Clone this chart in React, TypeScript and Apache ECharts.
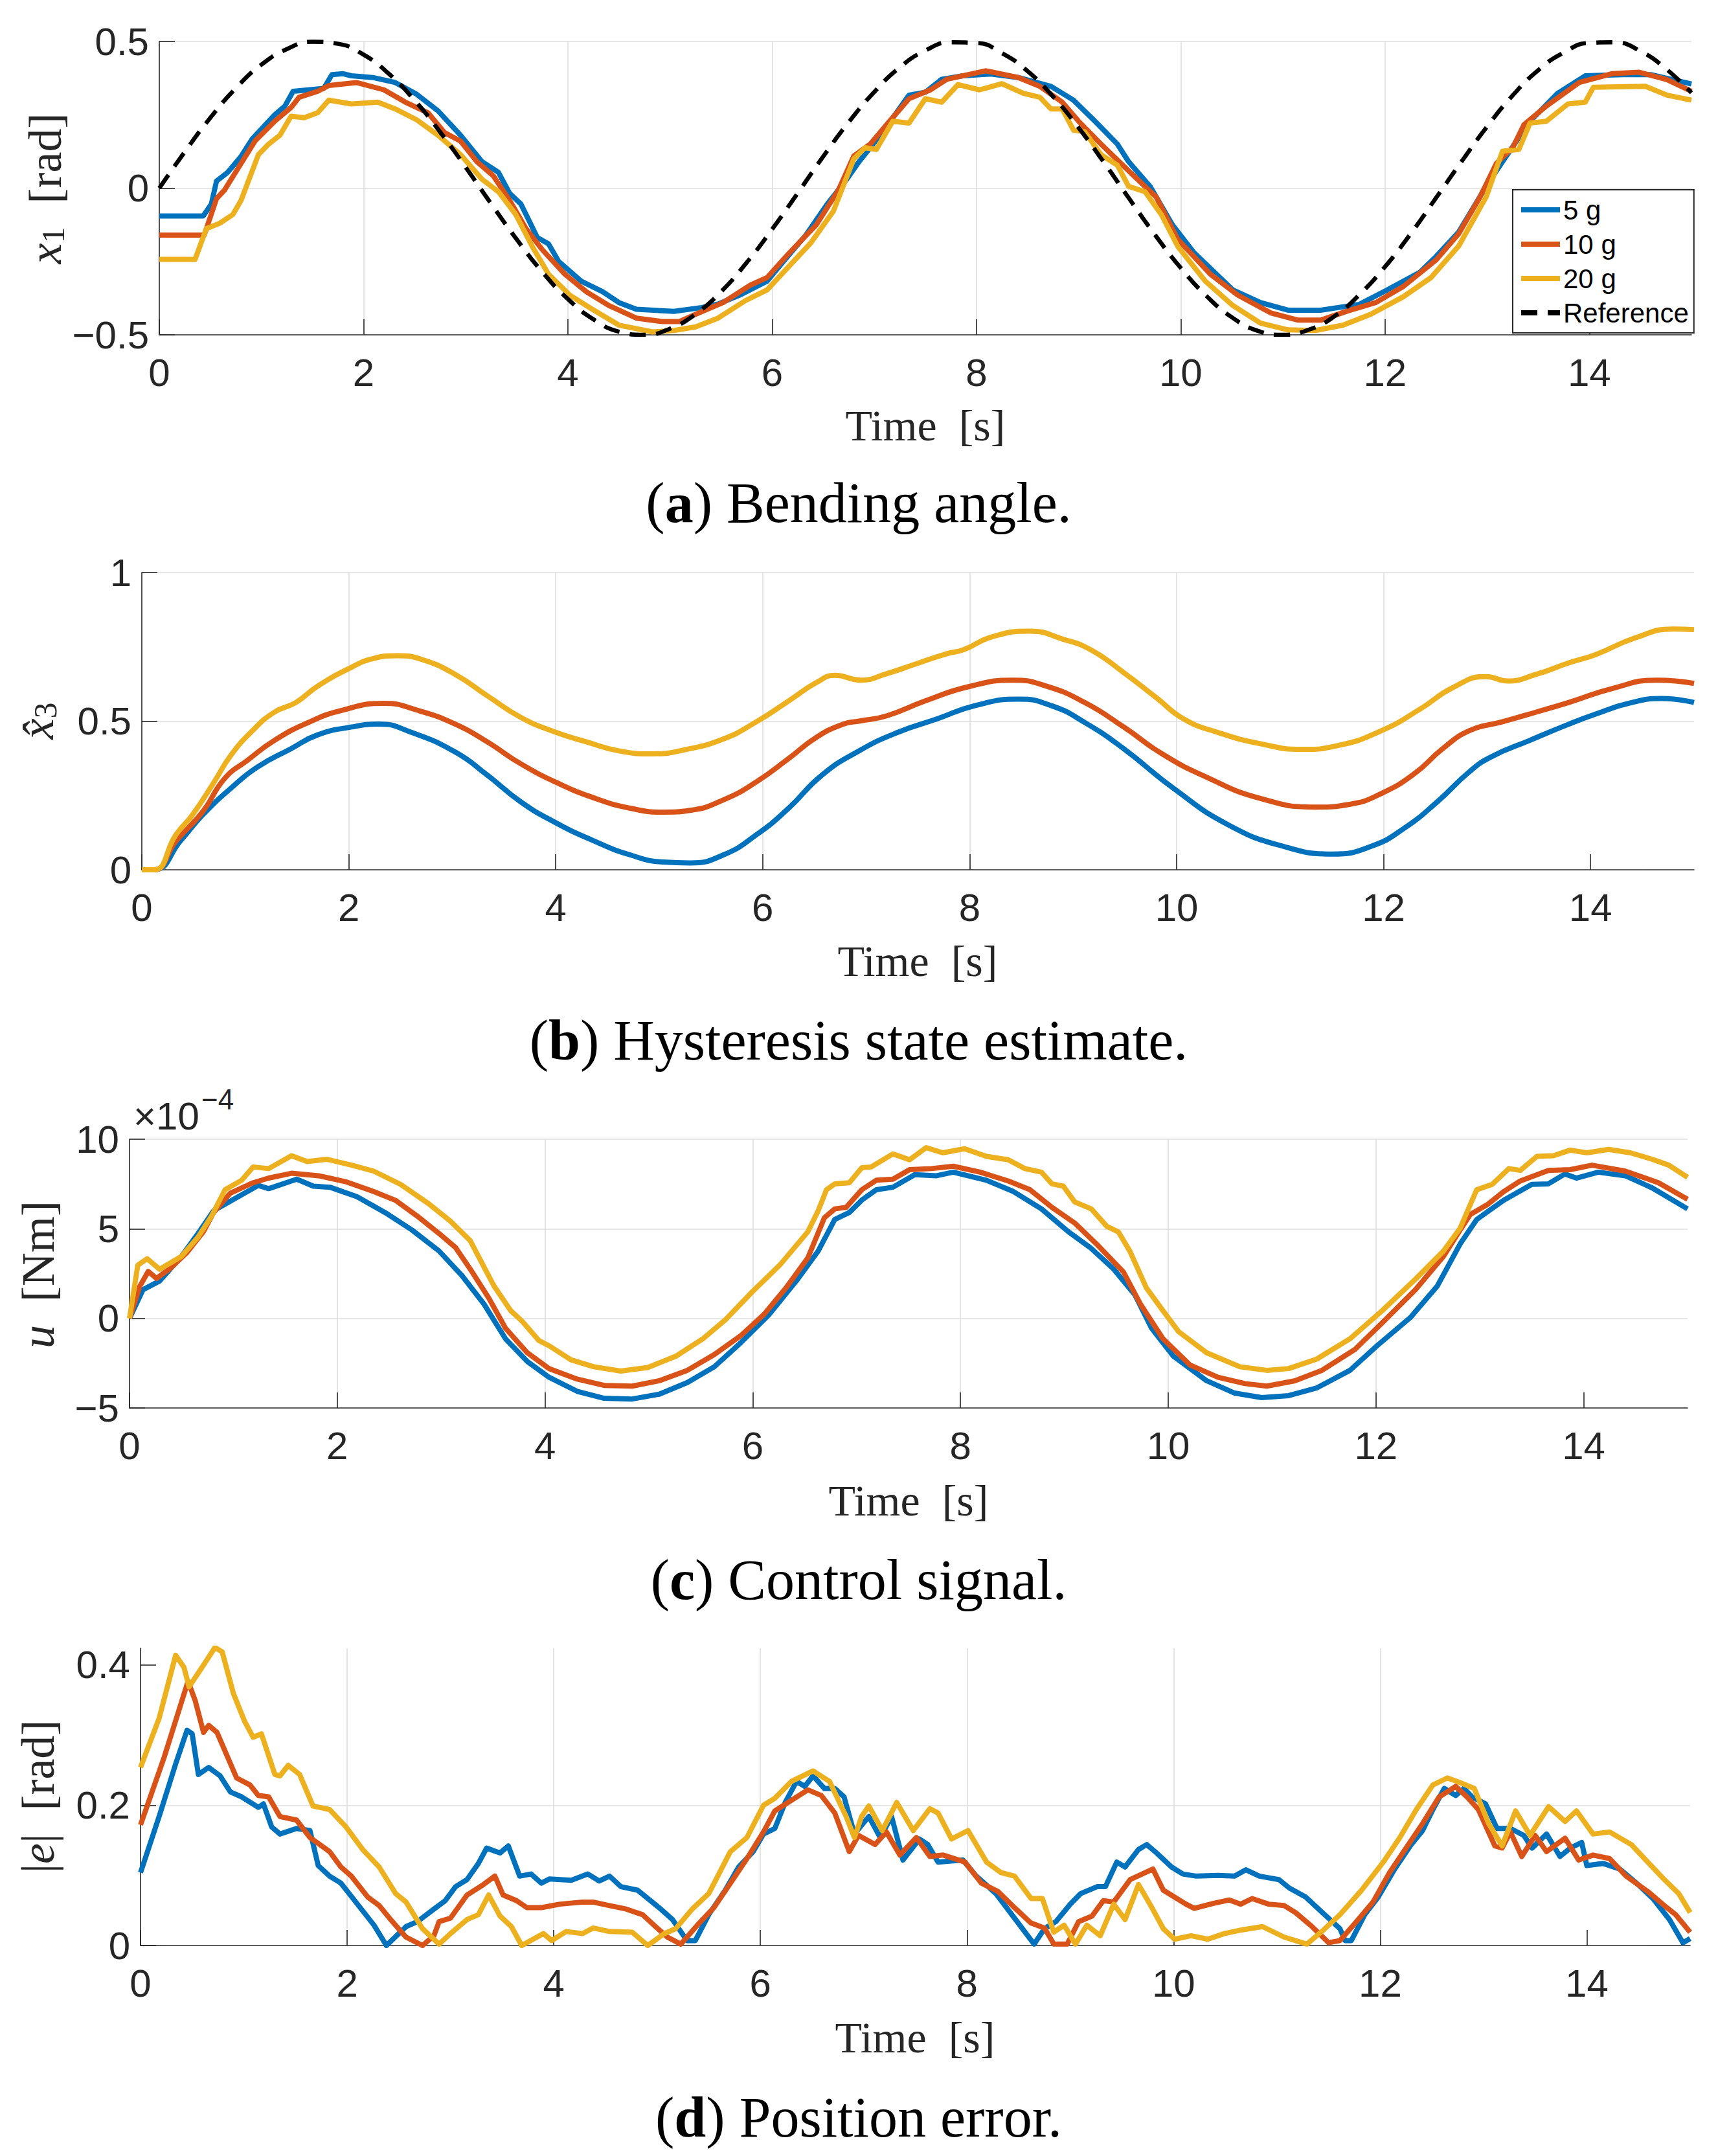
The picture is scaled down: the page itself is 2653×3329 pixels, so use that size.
import React, { useEffect, useRef } from 'react';
import * as echarts from 'echarts';

// MATLAB default colour order
const BLUE = '#0072BD';
const ORANGE = '#D95319';
const YELLOW = '#EDB120';
const AXIS = '#262626';
const GRID = '#dedede';

const seriesNames = ['5 g', '10 g', '20 g', 'Reference'];
const xTicks = [0, 2, 4, 6, 8, 10, 12, 14];

// (a) bending angle x1 [rad]
const angle5: [number, number][] = [[0,-0.095],[0.43,-0.095],[0.51,-0.054],[0.56,0.024],[0.67,0.054],[0.8,0.108],[0.91,0.168],[1.13,0.25],[1.23,0.28],[1.31,0.33],[1.61,0.34],[1.69,0.387],[1.8,0.39],[1.88,0.383],[2.09,0.377],[2.31,0.36],[2.52,0.32],[2.73,0.263],[2.95,0.18],[3.16,0.09],[3.32,0.054],[3.43,-0.018],[3.54,-0.054],[3.7,-0.168],[3.81,-0.19],[3.91,-0.25],[4.13,-0.317],[4.34,-0.353],[4.5,-0.39],[4.67,-0.413],[5.04,-0.42],[5.31,-0.407],[5.47,-0.395],[5.68,-0.365],[5.95,-0.317],[6.11,-0.25],[6.33,-0.16],[6.54,-0.054],[6.73,0.03],[6.85,0.09],[6.96,0.138],[7.12,0.21],[7.34,0.317],[7.5,0.327],[7.66,0.371],[7.87,0.383],[8.14,0.389],[8.41,0.377],[8.73,0.347],[8.95,0.3],[9.16,0.228],[9.38,0.15],[9.49,0.09],[9.7,0.006],[9.92,-0.126],[10.13,-0.22],[10.51,-0.347],[10.78,-0.39],[11.05,-0.416],[11.37,-0.416],[11.75,-0.396],[12.02,-0.347],[12.34,-0.287],[12.5,-0.233],[12.72,-0.15],[12.99,0.006],[13.15,0.09],[13.42,0.228],[13.69,0.323],[13.96,0.383],[14.33,0.387],[14.6,0.387],[15,0.355]];
const angle10: [number, number][] = [[0,-0.16],[0.44,-0.16],[0.56,-0.036],[0.64,-0.006],[0.8,0.084],[0.94,0.162],[1.13,0.228],[1.29,0.275],[1.37,0.31],[1.55,0.33],[1.66,0.35],[1.93,0.36],[2.2,0.335],[2.41,0.293],[2.63,0.257],[2.79,0.19],[2.95,0.16],[3.11,0.09],[3.27,0.042],[3.43,-0.042],[3.59,-0.138],[3.75,-0.21],[3.97,-0.293],[4.18,-0.353],[4.4,-0.4],[4.67,-0.443],[4.93,-0.455],[5.09,-0.455],[5.25,-0.43],[5.52,-0.39],[5.79,-0.33],[5.95,-0.305],[6.17,-0.22],[6.43,-0.126],[6.65,-0.006],[6.8,0.11],[6.96,0.15],[7.12,0.216],[7.34,0.305],[7.55,0.335],[7.71,0.371],[8.09,0.4],[8.41,0.377],[8.62,0.347],[8.84,0.293],[9,0.228],[9.22,0.15],[9.54,0.042],[9.76,-0.03],[9.97,-0.174],[10.29,-0.293],[10.56,-0.365],[10.88,-0.425],[11.15,-0.45],[11.37,-0.45],[11.64,-0.418],[11.91,-0.39],[12.18,-0.335],[12.5,-0.245],[12.72,-0.156],[12.93,-0.03],[13.09,0.084],[13.25,0.138],[13.36,0.216],[13.58,0.28],[13.9,0.36],[14.22,0.39],[14.49,0.395],[14.76,0.37],[15,0.33]];
const angle20: [number, number][] = [[0,-0.243],[0.35,-0.243],[0.46,-0.138],[0.59,-0.12],[0.72,-0.09],[0.8,-0.042],[0.97,0.114],[1.07,0.15],[1.18,0.18],[1.29,0.245],[1.42,0.24],[1.55,0.257],[1.66,0.3],[1.88,0.287],[2.14,0.293],[2.31,0.27],[2.52,0.233],[2.73,0.18],[2.95,0.114],[3.16,0.03],[3.32,-0.012],[3.49,-0.09],[3.65,-0.198],[3.81,-0.293],[4.02,-0.365],[4.24,-0.413],[4.5,-0.467],[4.83,-0.49],[5.04,-0.485],[5.25,-0.473],[5.47,-0.443],[5.74,-0.383],[5.95,-0.347],[6.11,-0.287],[6.38,-0.186],[6.6,-0.078],[6.8,0.1],[6.91,0.138],[7.02,0.132],[7.18,0.228],[7.34,0.222],[7.5,0.305],[7.66,0.293],[7.82,0.353],[8.03,0.335],[8.25,0.356],[8.46,0.323],[8.62,0.31],[8.73,0.27],[8.84,0.27],[8.95,0.198],[9.06,0.192],[9.22,0.114],[9.38,0.078],[9.49,0.006],[9.65,-0.012],[9.81,-0.09],[9.97,-0.198],[10.24,-0.317],[10.51,-0.4],[10.78,-0.46],[11.05,-0.483],[11.32,-0.485],[11.59,-0.467],[11.86,-0.43],[12.18,-0.37],[12.45,-0.305],[12.72,-0.198],[12.99,-0.03],[13.15,0.126],[13.31,0.132],[13.42,0.222],[13.58,0.228],[13.79,0.287],[13.96,0.293],[14.04,0.344],[14.55,0.347],[14.76,0.317],[15,0.3]];
const refTime = [0,0.25,0.5,0.75,1,1.25,1.5,1.75,2,2.25,2.5,2.75,3,3.25,3.5,3.75,4,4.25,4.5,4.75,5,5.25,5.5,5.75,6,6.25,6.5,6.75,7,7.25,7.5,7.75,8,8.25,8.5,8.75,9,9.25,9.5,9.75,10,10.25,10.5,10.75,11,11.25,11.5,11.75,12,12.25,12.5,12.75,13,13.25,13.5,13.75,14,14.25,14.5,14.75,15];
const refAngle = [0,0.124,0.24,0.341,0.421,0.474,0.499,0.492,0.455,0.389,0.299,0.191,0.071,-0.054,-0.175,-0.286,-0.378,-0.447,-0.489,-0.5,-0.479,-0.429,-0.353,-0.254,-0.14,-0.017,0.108,0.225,0.328,0.412,0.469,0.497,0.495,0.46,0.399,0.312,0.206,0.087,-0.038,-0.16,-0.272,-0.367,-0.44,-0.486,-0.5,-0.483,-0.438,-0.363,-0.268,-0.156,-0.033,0.091,0.21,0.316,0.402,0.462,0.495,0.497,0.467,0.407,0.325];

// (b) hysteresis state estimate
const hyst5: [number, number][] = [[0,0],[0.12,0],[0.38,0.1],[0.59,0.185],[0.86,0.274],[1.12,0.346],[1.44,0.407],[1.7,0.454],[2.02,0.48],[2.29,0.49],[2.6,0.463],[3.03,0.396],[3.34,0.318],[3.66,0.229],[3.98,0.162],[4.35,0.1],[4.72,0.05],[5.04,0.026],[5.3,0.023],[5.62,0.05],[5.94,0.118],[6.25,0.207],[6.57,0.318],[6.93,0.4],[7.31,0.463],[7.68,0.507],[8.05,0.552],[8.47,0.574],[8.79,0.552],[9.11,0.496],[9.49,0.407],[9.97,0.274],[10.5,0.151],[11.03,0.079],[11.51,0.053],[11.88,0.079],[12.2,0.14],[12.52,0.229],[12.83,0.33],[13.04,0.38],[13.41,0.435],[13.79,0.49],[14.05,0.524],[14.37,0.56],[14.69,0.576],[15,0.563]];
const hyst10: [number, number][] = [[0,0],[0.12,0],[0.33,0.096],[0.59,0.196],[0.8,0.307],[1.02,0.368],[1.28,0.435],[1.6,0.494],[1.92,0.535],[2.34,0.56],[2.66,0.537],[3.03,0.49],[3.34,0.43],[3.66,0.357],[4.03,0.29],[4.4,0.238],[4.72,0.207],[5.04,0.194],[5.3,0.2],[5.62,0.235],[5.94,0.296],[6.25,0.374],[6.52,0.446],[6.78,0.49],[6.93,0.5],[7.2,0.518],[7.57,0.568],[7.99,0.616],[8.42,0.638],[8.74,0.618],[9.11,0.563],[9.49,0.48],[9.86,0.39],[10.28,0.313],[10.81,0.24],[11.35,0.211],[11.67,0.22],[11.98,0.257],[12.3,0.324],[12.57,0.407],[12.83,0.468],[13.15,0.498],[13.47,0.53],[13.79,0.563],[14.21,0.61],[14.64,0.638],[15,0.627]];
const hyst20: [number, number][] = [[0,0],[0.12,0],[0.33,0.118],[0.49,0.185],[0.7,0.296],[0.86,0.385],[1.07,0.468],[1.28,0.53],[1.49,0.563],[1.7,0.618],[2.02,0.68],[2.23,0.71],[2.47,0.72],[2.71,0.707],[3.03,0.657],[3.34,0.585],[3.66,0.513],[3.98,0.465],[4.3,0.43],[4.61,0.4],[4.93,0.39],[5.25,0.404],[5.62,0.44],[5.94,0.498],[6.25,0.568],[6.52,0.63],[6.7,0.654],[6.95,0.638],[7.2,0.66],[7.46,0.69],[7.78,0.727],[7.94,0.74],[8.21,0.783],[8.58,0.803],[8.9,0.776],[9.17,0.74],[9.49,0.663],[9.8,0.58],[10.07,0.507],[10.39,0.463],[10.81,0.424],[11.21,0.405],[11.56,0.418],[11.98,0.468],[12.35,0.54],[12.67,0.613],[12.99,0.65],[13.2,0.635],[13.47,0.657],[13.79,0.696],[14.05,0.724],[14.43,0.78],[14.8,0.81],[15,0.808]];

// (c) control signal u, in units of 1e-4 Nm
const ctrl5: [number, number][] = [[0,0],[0.13,1.6],[0.29,2.09],[0.5,3.46],[0.66,4.74],[0.81,6.01],[0.97,6.54],[1.24,7.42],[1.34,7.24],[1.61,7.77],[1.77,7.38],[1.93,7.32],[2.19,6.79],[2.46,5.91],[2.72,4.93],[2.98,3.76],[3.2,2.39],[3.41,0.82],[3.62,-1.14],[3.83,-2.41],[4.04,-3.29],[4.31,-4.07],[4.57,-4.46],[4.84,-4.5],[5.1,-4.23],[5.37,-3.58],[5.63,-2.7],[5.89,-1.33],[6.16,0.23],[6.42,2.09],[6.63,3.76],[6.79,5.52],[6.93,5.91],[7.05,6.6],[7.19,7.18],[7.35,7.32],[7.56,8.02],[7.77,7.96],[7.93,8.16],[8.25,7.71],[8.51,7.08],[8.78,6.11],[9.04,4.83],[9.25,3.95],[9.47,2.78],[9.68,1.31],[9.84,-0.55],[10.05,-2.11],[10.37,-3.48],[10.64,-4.17],[10.9,-4.42],[11.16,-4.31],[11.43,-3.88],[11.75,-2.9],[12.01,-1.53],[12.33,0.04],[12.59,1.8],[12.81,4.15],[12.97,5.52],[13.23,6.59],[13.5,7.48],[13.66,7.51],[13.82,8.06],[13.93,7.83],[14.14,8.16],[14.4,7.96],[14.66,7.28],[15,6.11]];
const ctrl10: [number, number][] = [[0,0],[0.1,1.8],[0.18,2.62],[0.26,2.23],[0.39,2.78],[0.55,3.66],[0.71,4.83],[0.81,5.91],[0.97,6.99],[1.19,7.57],[1.34,7.83],[1.56,8.1],[1.82,7.96],[2.08,7.63],[2.35,7.08],[2.56,6.59],[2.77,5.71],[2.98,4.74],[3.14,3.95],[3.3,2.58],[3.46,1.12],[3.62,-0.55],[3.83,-1.92],[4.04,-2.8],[4.31,-3.39],[4.57,-3.74],[4.84,-3.78],[5.1,-3.48],[5.37,-2.9],[5.63,-2.02],[5.89,-0.94],[6.11,0.23],[6.32,1.7],[6.53,3.37],[6.69,5.62],[6.79,6.11],[6.9,6.2],[7.05,7.18],[7.19,7.71],[7.35,7.77],[7.51,8.3],[7.72,8.36],[7.93,8.49],[8.19,8.16],[8.46,7.67],[8.67,7.18],[8.88,6.2],[9.1,5.32],[9.31,4.15],[9.57,2.58],[9.73,0.82],[9.95,-1.14],[10.21,-2.6],[10.48,-3.29],[10.74,-3.64],[10.95,-3.78],[11.22,-3.48],[11.48,-2.9],[11.8,-1.72],[12.06,-0.25],[12.38,1.6],[12.65,3.46],[12.81,4.93],[12.91,5.81],[13.07,6.34],[13.23,7.08],[13.39,7.67],[13.66,8.26],[13.87,8.3],[14.08,8.55],[14.4,8.22],[14.72,7.57],[15,6.65]];
const ctrl20: [number, number][] = [[0,0],[0.08,2.97],[0.17,3.33],[0.29,2.74],[0.5,3.46],[0.66,4.54],[0.79,5.71],[0.92,7.18],[1.08,7.71],[1.19,8.45],[1.34,8.36],[1.56,9.08],[1.71,8.75],[1.9,8.88],[2.14,8.55],[2.35,8.22],[2.61,7.48],[2.88,6.4],[3.09,5.42],[3.28,4.34],[3.35,3.56],[3.51,1.8],[3.67,0.43],[3.78,-0.16],[3.94,-1.23],[4.04,-1.53],[4.25,-2.31],[4.47,-2.7],[4.73,-2.94],[4.99,-2.74],[5.26,-2.11],[5.52,-1.14],[5.74,-0.06],[6,1.51],[6.26,2.97],[6.53,4.83],[6.63,6.01],[6.71,7.18],[6.79,7.51],[6.93,7.57],[7.05,8.41],[7.14,8.45],[7.35,9.18],[7.51,8.85],[7.67,9.53],[7.83,9.24],[8.04,9.47],[8.25,9.04],[8.46,8.85],[8.62,8.36],[8.78,8.16],[8.88,7.51],[8.99,7.38],[9.1,6.5],[9.26,6.11],[9.41,5.13],[9.52,4.83],[9.63,3.76],[9.79,1.7],[9.95,0.43],[10.1,-0.74],[10.37,-1.92],[10.69,-2.7],[10.95,-2.9],[11.16,-2.8],[11.43,-2.27],[11.75,-1.14],[12.06,0.43],[12.38,2.19],[12.65,3.76],[12.81,5.03],[12.97,7.18],[13.12,7.48],[13.28,8.36],[13.39,8.26],[13.55,9.04],[13.71,9.08],[13.87,9.39],[14.03,9.24],[14.24,9.43],[14.45,9.24],[14.66,8.88],[14.82,8.55],[15,7.87]];

// (d) position error |e| [rad]
const err5: [number, number][] = [[0,0.104],[0.18,0.184],[0.34,0.259],[0.45,0.307],[0.5,0.302],[0.56,0.244],[0.66,0.254],[0.77,0.242],[0.87,0.219],[0.98,0.212],[1.14,0.197],[1.19,0.202],[1.27,0.169],[1.35,0.159],[1.51,0.167],[1.64,0.164],[1.72,0.114],[1.83,0.099],[1.94,0.089],[2.1,0.059],[2.26,0.029],[2.38,0],[2.57,0.027],[2.68,0.034],[2.84,0.052],[2.95,0.064],[3.05,0.084],[3.16,0.094],[3.27,0.117],[3.35,0.139],[3.48,0.132],[3.56,0.142],[3.67,0.099],[3.78,0.102],[3.88,0.089],[3.96,0.095],[4.17,0.093],[4.33,0.102],[4.44,0.092],[4.54,0.099],[4.65,0.084],[4.81,0.079],[5.02,0.054],[5.15,0.037],[5.29,0.007],[5.37,0.007],[5.5,0.044],[5.66,0.079],[5.79,0.112],[5.93,0.134],[6.03,0.159],[6.14,0.167],[6.24,0.204],[6.35,0.234],[6.43,0.227],[6.51,0.242],[6.62,0.224],[6.72,0.224],[6.81,0.212],[6.91,0.159],[7.05,0.184],[7.16,0.154],[7.27,0.184],[7.38,0.122],[7.54,0.152],[7.62,0.144],[7.72,0.119],[7.96,0.122],[8.09,0.099],[8.28,0.074],[8.46,0.039],[8.65,0.002],[8.75,0.024],[8.86,0.034],[9,0.059],[9.1,0.074],[9.26,0.084],[9.34,0.084],[9.45,0.119],[9.53,0.112],[9.66,0.137],[9.74,0.144],[9.82,0.134],[9.98,0.112],[10.09,0.102],[10.22,0.099],[10.43,0.1],[10.59,0.099],[10.7,0.108],[10.83,0.099],[11.02,0.094],[11.12,0.082],[11.28,0.069],[11.44,0.047],[11.61,0.024],[11.66,0.007],[11.72,0.007],[11.85,0.044],[11.98,0.069],[12.14,0.109],[12.3,0.144],[12.41,0.164],[12.51,0.194],[12.62,0.224],[12.73,0.214],[12.81,0.224],[12.89,0.212],[13.02,0.202],[13.13,0.167],[13.26,0.167],[13.39,0.157],[13.47,0.139],[13.61,0.159],[13.74,0.127],[13.84,0.139],[13.95,0.147],[14,0.114],[14.16,0.117],[14.32,0.109],[14.48,0.089],[14.64,0.067],[14.8,0.037],[14.93,0.004],[15,0.01]];
const err10: [number, number][] = [[0,0.172],[0.23,0.269],[0.46,0.377],[0.53,0.349],[0.61,0.304],[0.66,0.314],[0.74,0.304],[0.93,0.239],[1.06,0.229],[1.14,0.214],[1.24,0.212],[1.35,0.184],[1.51,0.179],[1.64,0.154],[1.83,0.134],[1.94,0.112],[2.04,0.099],[2.2,0.069],[2.31,0.057],[2.41,0.039],[2.57,0.012],[2.73,0],[2.84,0.014],[2.89,0.034],[3,0.039],[3.16,0.072],[3.32,0.087],[3.43,0.099],[3.51,0.072],[3.64,0.064],[3.74,0.054],[3.88,0.054],[4.06,0.059],[4.28,0.062],[4.38,0.062],[4.54,0.057],[4.7,0.052],[4.86,0.044],[4.97,0.029],[5.1,0.012],[5.23,0.002],[5.39,0.029],[5.55,0.054],[5.71,0.089],[5.87,0.124],[6.03,0.162],[6.14,0.192],[6.3,0.207],[6.46,0.222],[6.59,0.214],[6.72,0.189],[6.86,0.134],[6.95,0.157],[7.11,0.144],[7.22,0.162],[7.35,0.129],[7.51,0.154],[7.64,0.127],[7.77,0.129],[7.98,0.119],[8.14,0.089],[8.3,0.077],[8.46,0.054],[8.62,0.032],[8.75,0.025],[8.84,0.002],[8.97,0.002],[9.08,0.034],[9.21,0.042],[9.32,0.064],[9.42,0.062],[9.58,0.094],[9.8,0.109],[9.9,0.079],[10.12,0.059],[10.2,0.053],[10.38,0.06],[10.54,0.065],[10.65,0.059],[10.76,0.067],[10.92,0.059],[11.07,0.057],[11.18,0.047],[11.34,0.027],[11.5,0.004],[11.61,0.007],[11.77,0.034],[11.93,0.062],[12.09,0.104],[12.25,0.139],[12.41,0.174],[12.57,0.212],[12.73,0.227],[12.84,0.212],[12.95,0.194],[13.11,0.142],[13.18,0.139],[13.26,0.162],[13.37,0.127],[13.5,0.157],[13.61,0.134],[13.79,0.153],[13.92,0.122],[14.06,0.129],[14.22,0.124],[14.38,0.099],[14.59,0.077],[14.75,0.057],[14.86,0.044],[15,0.019]];
const err20: [number, number][] = [[0,0.254],[0.18,0.324],[0.34,0.414],[0.42,0.397],[0.47,0.369],[0.61,0.4],[0.72,0.425],[0.79,0.419],[0.9,0.359],[1.01,0.319],[1.09,0.297],[1.17,0.302],[1.3,0.244],[1.35,0.242],[1.43,0.257],[1.54,0.244],[1.67,0.199],[1.83,0.194],[1.99,0.169],[2.15,0.137],[2.31,0.112],[2.47,0.074],[2.57,0.062],[2.73,0.024],[2.89,0.002],[3,0.017],[3.16,0.037],[3.27,0.044],[3.37,0.072],[3.48,0.042],[3.59,0.027],[3.69,0],[3.9,0.017],[3.98,0.007],[4.12,0.02],[4.28,0.017],[4.38,0.025],[4.54,0.02],[4.76,0.019],[4.91,0],[5.07,0.017],[5.18,0.024],[5.34,0.052],[5.5,0.074],[5.71,0.134],[5.87,0.154],[6.03,0.2],[6.14,0.21],[6.3,0.234],[6.51,0.249],[6.67,0.234],[6.83,0.184],[6.91,0.154],[6.98,0.184],[7.05,0.199],[7.18,0.164],[7.32,0.204],[7.48,0.164],[7.64,0.195],[7.72,0.189],[7.85,0.152],[8.01,0.164],[8.19,0.119],[8.33,0.104],[8.46,0.099],[8.62,0.067],[8.73,0.067],[8.84,0.019],[8.94,0.029],[9.05,0.002],[9.16,0.029],[9.29,0.014],[9.42,0.059],[9.53,0.037],[9.66,0.087],[9.79,0.054],[9.9,0.024],[10.01,0.009],[10.17,0.014],[10.33,0.009],[10.49,0.017],[10.65,0.022],[10.86,0.027],[11.07,0.012],[11.29,0.002],[11.45,0.022],[11.61,0.044],[11.82,0.079],[12.03,0.119],[12.19,0.154],[12.35,0.194],[12.51,0.229],[12.65,0.239],[12.78,0.232],[12.91,0.224],[13.05,0.174],[13.18,0.142],[13.31,0.192],[13.45,0.157],[13.63,0.198],[13.79,0.177],[13.9,0.192],[14.06,0.159],[14.22,0.162],[14.43,0.144],[14.59,0.119],[14.75,0.094],[14.89,0.074],[15,0.047]];

const captions = [
  ['a', 'Bending angle.'],
  ['b', 'Hysteresis state estimate.'],
  ['c', 'Control signal.'],
  ['d', 'Position error.'],
];

const SANS = 'Liberation Sans, Arial, sans-serif';
const SERIF = 'Liberation Serif, DejaVu Serif, serif';
const LW = 8;
const AW = 1.6;

const fmtMinus = (v: number) => String(v).replace('-', '\u2212');

function makeX(gridIndex: number) {
  return {
    gridIndex,
    type: 'value',
    min: 0,
    max: 15,
    interval: 2,
    axisLine: { show: true, onZero: false, lineStyle: { color: AXIS, width: AW } },
    axisTick: { show: true, inside: true, length: 24, customValues: xTicks, lineStyle: { color: AXIS, width: AW } },
    axisLabel: { customValues: xTicks, color: AXIS, fontSize: 60, fontFamily: SANS, margin: 28 },
    splitLine: { show: true, showMinLine: false, showMaxLine: false, lineStyle: { color: GRID, width: 1.6 } },
  };
}

function makeY(gridIndex: number, min: number, max: number, interval: number, ticks: number[], topLine: boolean) {
  return {
    gridIndex,
    type: 'value',
    min,
    max,
    interval,
    axisLine: { show: true, onZero: false, lineStyle: { color: AXIS, width: AW } },
    axisTick: { show: true, inside: true, length: 24, customValues: ticks, lineStyle: { color: AXIS, width: AW } },
    axisLabel: { customValues: ticks, color: AXIS, fontSize: 60, fontFamily: SANS, margin: 16, formatter: fmtMinus },
    splitLine: { show: true, showMinLine: false, showMaxLine: topLine, lineStyle: { color: GRID, width: 1.6 } },
  };
}

function line(name: string, color: string, data: any[], axis: number, smooth = false, dashed = false) {
  return {
    name,
    type: 'line',
    xAxisIndex: axis,
    yAxisIndex: axis,
    data,
    smooth,
    symbol: 'none',
    showSymbol: false,
    lineStyle: { color, width: dashed ? 6.5 : LW, type: dashed ? [25, 16] : 'solid', cap: 'butt', join: 'round' },
    itemStyle: { color },
    emphasis: { disabled: true },
  };
}

function yName(x: number, y: number, rich: string) {
  return {
    type: 'text',
    x,
    y,
    rotation: Math.PI / 2,
    style: {
      text: rich,
      fill: AXIS,
      fontSize: 72,
      fontFamily: SERIF,
      align: 'center',
      verticalAlign: 'middle',
      textAlign: 'center',
      textVerticalAlign: 'middle',
      rich: {
        i: { fontStyle: 'italic', fontSize: 72, fontFamily: SERIF, fill: AXIS },
        s: { fontSize: 50, fontFamily: SERIF, fill: AXIS, padding: [24, 0, 0, 0] },
        n: { fontSize: 72, fontFamily: SERIF, fill: AXIS },
      },
    },
  };
}

function centerText(x: number, y: number, text: string, size: number, family: string, rich?: any, fill = AXIS) {
  return {
    type: 'text',
    x,
    y,
    style: {
      text,
      fill,
      fontSize: size,
      fontFamily: family,
      align: 'center',
      verticalAlign: 'middle',
      textAlign: 'center',
      textVerticalAlign: 'middle',
      rich,
    },
  };
}

export default function App() {
  const ref = useRef<HTMLDivElement>(null);

  useEffect(() => {
    if (!ref.current) return;
    const chart = echarts.init(ref.current, undefined, { renderer: 'svg' });

    const capRich = {
      b: { fontWeight: 'bold', fontSize: 88, fontFamily: SERIF, fill: '#000' },
      n: { fontSize: 88, fontFamily: SERIF, fill: '#000' },
    };
    const capY = [776, 1606, 2439, 3269];
    const timeLabel = 'Time\u2002[s]';

    chart.setOption({
      animation: false,
      backgroundColor: '#ffffff',
      grid: [
        { left: 246, top: 64, width: 2366, height: 453 },
        { left: 219, top: 884, width: 2397, height: 459 },
        { left: 200, top: 1759, width: 2406, height: 415 },
        { left: 217, top: 2545, width: 2393, height: 459 },
      ],
      xAxis: [makeX(0), makeX(1), makeX(2), makeX(3)],
      yAxis: [
        makeY(0, -0.5, 0.5, 0.5, [-0.5, 0, 0.5], true),
        makeY(1, 0, 1, 0.5, [0, 0.5, 1], true),
        makeY(2, -5, 10, 5, [-5, 0, 5, 10], true),
        makeY(3, 0, 0.424, 0.2, [0, 0.2, 0.4], false),
      ],
      legend: {
        data: seriesNames,
        orient: 'vertical',
        left: 2336,
        top: 293,
        itemWidth: 60,
        itemHeight: 20,
        itemGap: 11,
        itemTextGap: 7,
        padding: [10, 8, 10, 9],
        backgroundColor: '#ffffff',
        borderColor: AXIS,
        borderWidth: 2,
        borderRadius: 0,
        itemStyle: { opacity: 0 },
        lineStyle: { width: LW },
        textStyle: { fontSize: 42, fontFamily: SANS, color: '#000' },
        selectedMode: false,
      },
      series: [
        line(seriesNames[0], BLUE, angle5, 0),
        line(seriesNames[1], ORANGE, angle10, 0),
        line(seriesNames[2], YELLOW, angle20, 0),
        line(seriesNames[3], '#000000', refTime.map((t, i) => [t, refAngle[i]]), 0, true, true),
        line(seriesNames[0], BLUE, hyst5, 1, true),
        line(seriesNames[1], ORANGE, hyst10, 1, true),
        line(seriesNames[2], YELLOW, hyst20, 1, true),
        line(seriesNames[0], BLUE, ctrl5, 2),
        line(seriesNames[1], ORANGE, ctrl10, 2),
        line(seriesNames[2], YELLOW, ctrl20, 2),
        line(seriesNames[0], BLUE, err5, 3),
        line(seriesNames[1], ORANGE, err10, 3),
        line(seriesNames[2], YELLOW, err20, 3),
      ],
      graphic: [
        centerText(1429, 657, timeLabel, 68, SERIF),
        centerText(1417, 1484, timeLabel, 68, SERIF),
        centerText(1403, 2317, timeLabel, 68, SERIF),
        centerText(1413, 3146, timeLabel, 68, SERIF),
        yName(70, 291, '{i|x}{s|1}{n|\u2002[rad]}'),
        yName(58, 1113, '{i|x\u0302}{s|3}'),
        yName(59, 1968, '{i|u}{n|\u2002[Nm]}'),
        yName(59, 2774, '{n||}{i|e}{n||\u2002[rad]}'),
        { type: 'text', x: 206, y: 1723, style: { text: '\u00d710', fill: AXIS, fontSize: 60, fontFamily: SANS, align: 'left', verticalAlign: 'middle', textAlign: 'left', textVerticalAlign: 'middle' } },
        { type: 'text', x: 311, y: 1697, style: { text: '\u22124', fill: AXIS, fontSize: 44, fontFamily: SANS, align: 'left', verticalAlign: 'middle', textAlign: 'left', textVerticalAlign: 'middle' } },
        ...captions.map((c, i) => centerText(1326, capY[i], `{n|(}{b|${c[0]}}{n|) ${c[1]}}`, 88, SERIF, capRich, '#000')),
      ],
    });

    return () => chart.dispose();
  }, []);

  return <div ref={ref} style={{ position: 'absolute', left: 0, top: 0, width: 2653, height: 3329, background: '#fff' }} />;
}
